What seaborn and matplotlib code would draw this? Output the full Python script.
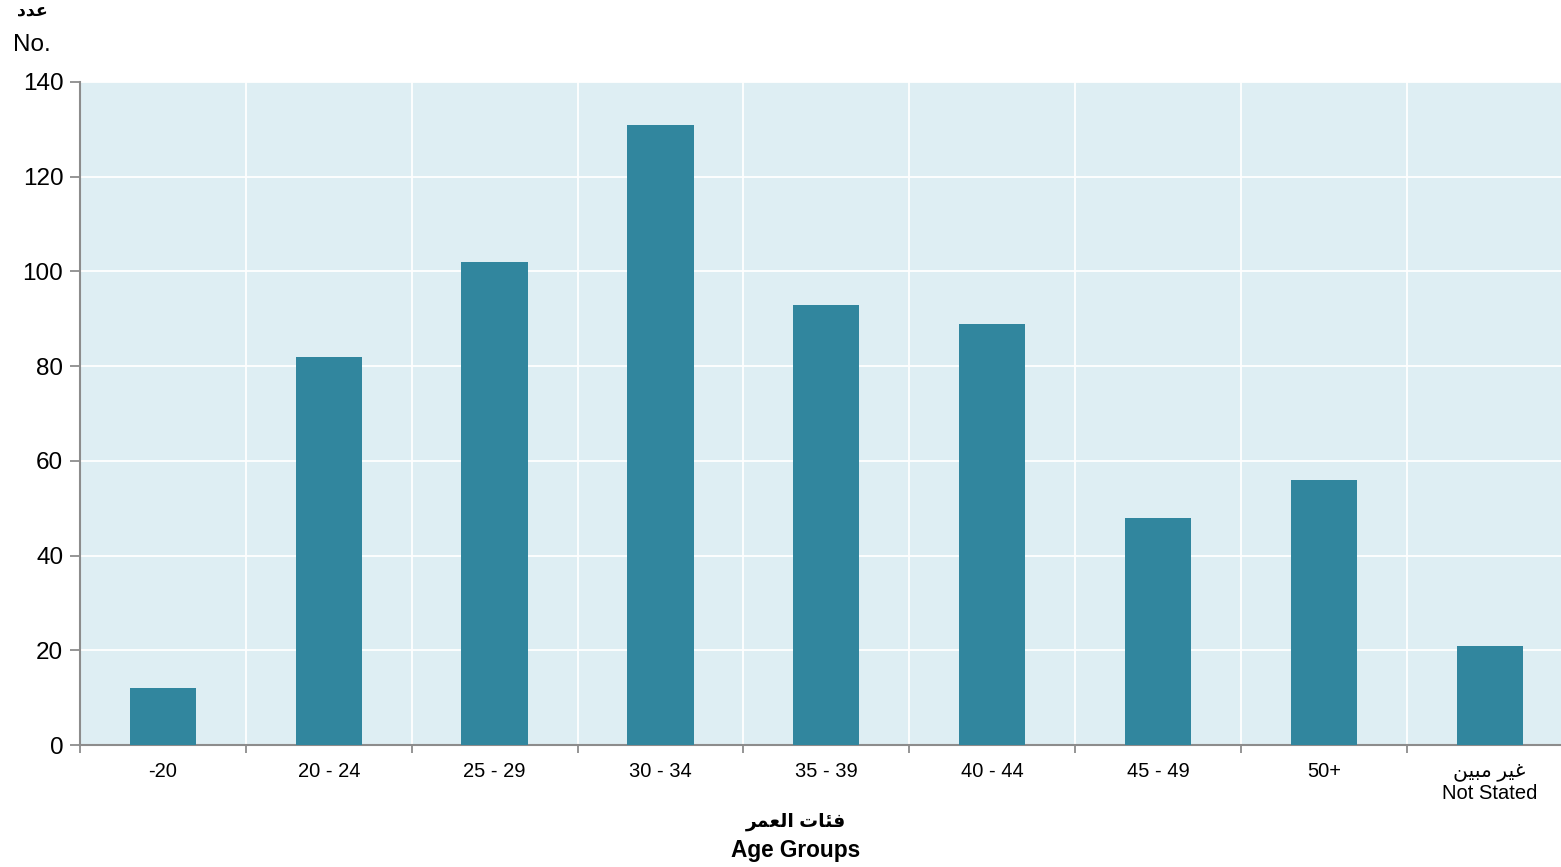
import matplotlib

matplotlib.use("Agg")

import matplotlib.pyplot as plt
import numpy as np
import pandas as pd
import seaborn as sns

# Arabic strings pre-shaped (presentation forms, visual order) since matplotlib has no bidi
AR_COUNT = "\uFEA9\uFEAA\uFECB"  # عدد
AR_AGE = "\uFEAE\uFEE4\uFECC\uFEDF\uFE8D \uFE95\uFE8E\uFE8C\uFED3"  # فئات العمر
AR_NOT_STATED = "\uFEE6\uFEF4\uFE92\uFEE3 \uFEAE\uFEF4\uFECF"  # غير مبين

categories = ["-20", "20 - 24", "25 - 29", "30 - 34", "35 - 39", "40 - 44", "45 - 49", "50+",
              AR_NOT_STATED + "\nNot Stated"]
counts = [12, 82, 102, 131, 93, 89, 48, 56, 21]
y_ticks = [0, 20, 40, 60, 80, 100, 120, 140]

BAR = "#31869e"
BG = "#deeef3"
AXIS = "#8c8c8c"

sns.set_theme(style="white")
plt.rcParams["font.family"] = ["Liberation Sans", "DejaVu Sans"]
plt.rcParams["text.color"] = "black"
plt.rcParams["xtick.labelcolor"] = "black"
plt.rcParams["ytick.labelcolor"] = "black"

df = pd.DataFrame({"group": categories, "count": counts})

fig = plt.figure(figsize=(15.61, 8.67), dpi=100)
ax = fig.add_axes([80 / 1561, 122 / 867, 1 - 80 / 1561, 663 / 867])
ax.set_facecolor(BG)

sns.barplot(data=df, x="group", y="count", color=BAR, width=0.4, saturation=1,
            linewidth=0, ax=ax, zorder=3)

ax.set_yticks(y_ticks)
ax.set_xticks(np.arange(-0.5, len(categories) - 1, 1.0), minor=True)
# last category runs past the right edge of the image in the reference
ax.set_xlim(-0.5, 8.43)
ax.set_ylim(0, 140)
ax.grid(axis="y", which="major", color="white", linewidth=1.3, zorder=0)
ax.grid(axis="x", which="minor", color="white", linewidth=1.3, zorder=0)
ax.set_axisbelow(True)

for side in ["top", "right"]:
    ax.spines[side].set_visible(False)
for side in ["left", "bottom"]:
    ax.spines[side].set_color(AXIS)
    ax.spines[side].set_linewidth(1.5)

ax.tick_params(axis="y", which="major", direction="out", length=7, width=1.3, color=AXIS,
               labelsize=17.5, pad=5, left=True)
ax.tick_params(axis="x", which="major", length=0, labelsize=14.5, pad=12)
ax.tick_params(axis="x", which="minor", direction="out", length=6, width=1.3, color=AXIS, bottom=True)
ax.set_xlabel("")
ax.set_ylabel("")

fig.text(32 / 1561, 1 - 45 / 867, "No.", ha="center", va="center", fontsize=17.5)
fig.text(32 / 1561, 1 - 11 / 867, AR_COUNT, ha="center", va="center", fontsize=12.5,
         fontweight="bold")
fig.text(796 / 1561, 1 - 822 / 867, AR_AGE, ha="center", va="center", fontsize=13.5,
         fontweight="bold")
fig.text(796 / 1561, 1 - 851 / 867, "Age Groups", ha="center", va="center", fontsize=16.3,
         fontweight="bold")

fig.savefig("out.png", dpi=100)
